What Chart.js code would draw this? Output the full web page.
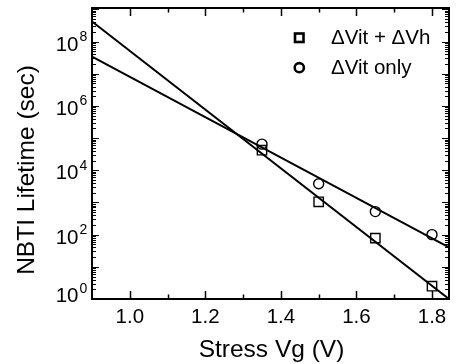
<!DOCTYPE html>
<html>
<head>
<meta charset="utf-8">
<script src="https://cdn.jsdelivr.net/npm/chart.js@4/dist/chart.umd.min.js"></script>
<style>
  html, body { margin: 0; padding: 0; background: #fff; }
  #wrap { width: 457px; height: 364px; }
</style>
</head>
<body>
<div id="wrap"><canvas id="c" width="457" height="364"></canvas></div>
<script>
// Measured lifetimes at each stress voltage
const stressV = [1.35, 1.5, 1.65, 1.8];
const lifeBoth = [4.2e4, 1.05e3, 78, 2.5];      // ΔVit + ΔVh
const lifeVitOnly = [6.5e4, 3.8e3, 520, 100];   // ΔVit only

// Extrapolated power-law fits (end points across the axis range)
const fitX = [0.9, 1.845];
const fitBoth = [4.2e8, 1.0];
const fitVitOnly = [3.4e7, 40];

// Axis ticks and texts
const xTicks = [1.0, 1.2, 1.4, 1.6, 1.8];
const xMinorTicks = [1.1, 1.3, 1.5, 1.7];
const yExponents = [0, 2, 4, 6, 8];
const seriesLabels = ['\u0394Vit + \u0394Vh', '\u0394Vit only'];
const xTitle = 'Stress Vg (V)';
const yTitle = 'NBTI Lifetime (sec)';

const FONT = "'Liberation Sans', Arial, Helvetica, sans-serif";

const toPts = (xs, ys) => xs.map((x, i) => ({ x: x, y: ys[i] }));

// Frame, inward ticks, tick labels, titles and legend
const framePlugin = {
  id: 'frame',
  afterDraw(chart) {
    const ctx = chart.ctx;
    const a = chart.chartArea;
    const xs = chart.scales.x, ys = chart.scales.y;
    ctx.save();
    ctx.strokeStyle = '#000';
    ctx.fillStyle = '#000';

    // frame
    ctx.lineWidth = 2;
    ctx.strokeRect(a.left, a.top, a.right - a.left, a.bottom - a.top);

    // x ticks (bottom + top)
    ctx.lineWidth = 1.5;
    const xTick = (v, len) => {
      const px = Math.round(xs.getPixelForValue(v)) + 0.5;
      ctx.beginPath();
      ctx.moveTo(px, a.bottom); ctx.lineTo(px, a.bottom - len);
      ctx.moveTo(px, a.top); ctx.lineTo(px, a.top + len);
      ctx.stroke();
    };
    xTicks.forEach(v => xTick(v, 8));
    xMinorTicks.forEach(v => xTick(v, 4.5));

    // y ticks (left + right), decades and 2..9 minors
    const yTick = (v, len) => {
      const py = Math.round(ys.getPixelForValue(v)) + 0.5;
      if (py < a.top - 0.5 || py > a.bottom + 0.5) return;
      ctx.beginPath();
      ctx.moveTo(a.left, py); ctx.lineTo(a.left + len, py);
      ctx.moveTo(a.right, py); ctx.lineTo(a.right - len, py);
      ctx.stroke();
    };
    ctx.lineWidth = 1.2;
    for (let e = 0; e <= 9; e++) {
      const base = Math.pow(10, e);
      yTick(base, 7);
      for (let m = 2; m <= 9; m++) yTick(m * base, 4);
    }

    // x tick labels
    ctx.font = '20.5px ' + FONT;
    ctx.textAlign = 'center';
    ctx.textBaseline = 'middle';
    xTicks.forEach(v => {
      ctx.fillText(v.toFixed(1), xs.getPixelForValue(v), 317);
    });

    // y tick labels as 10 with superscript exponent
    yExponents.forEach(e => {
      let py = ys.getPixelForValue(Math.pow(10, e));
      if (e === 0) py -= 6;
      ctx.font = '20.5px ' + FONT;
      ctx.textAlign = 'right';
      ctx.textBaseline = 'alphabetic';
      const baseY = py + 9;
      ctx.fillText('10', 78.5, baseY);
      ctx.font = '14px ' + FONT;
      ctx.textAlign = 'left';
      ctx.fillText(String(e), 79.5, baseY - 9.5);
    });

    // axis titles
    ctx.font = '24.5px ' + FONT;
    ctx.textAlign = 'center';
    ctx.textBaseline = 'alphabetic';
    ctx.fillText(xTitle, (a.left + a.right) / 2 + 1, 357);
    ctx.save();
    ctx.translate(34, 170);
    ctx.rotate(-Math.PI / 2);
    ctx.fillText(yTitle, 0, 0);
    ctx.restore();

    // legend
    ctx.lineWidth = 2.6;
    ctx.strokeRect(295, 33.5, 8.5, 8.5);
    ctx.beginPath();
    ctx.arc(299.3, 67.7, 4.6, 0, Math.PI * 2);
    ctx.stroke();
    ctx.font = '20.5px ' + FONT;
    ctx.textAlign = 'left';
    ctx.textBaseline = 'middle';
    ctx.fillText(seriesLabels[0], 331, 38);
    ctx.fillText(seriesLabels[1], 331, 68);

    ctx.restore();
  }
};

new Chart(document.getElementById('c'), {
  type: 'scatter',
  data: {
    datasets: [
      {
        label: seriesLabels[0] + ' fit',
        data: toPts(fitX, fitBoth),
        showLine: true, borderColor: '#000', borderWidth: 2,
        pointRadius: 0, fill: false
      },
      {
        label: seriesLabels[1] + ' fit',
        data: toPts(fitX, fitVitOnly),
        showLine: true, borderColor: '#000', borderWidth: 2,
        pointRadius: 0, fill: false
      },
      {
        label: seriesLabels[0],
        data: toPts(stressV, lifeBoth),
        pointStyle: 'rect', pointRadius: 6.6,
        pointBorderColor: '#000', pointBackgroundColor: 'rgba(0,0,0,0)',
        pointBorderWidth: 1.4, showLine: false
      },
      {
        label: seriesLabels[1],
        data: toPts(stressV, lifeVitOnly),
        pointStyle: 'circle', pointRadius: 5,
        pointBorderColor: '#000', pointBackgroundColor: 'rgba(0,0,0,0)',
        pointBorderWidth: 1.4, showLine: false
      }
    ]
  },
  options: {
    responsive: false,
    animation: false,
    events: [],
    layout: { padding: { left: 92, right: 4, top: 6, bottom: 65 } },
    plugins: { legend: { display: false }, tooltip: { enabled: false } },
    scales: {
      x: { type: 'linear', min: 0.9, max: 1.845, display: false },
      y: { type: 'logarithmic', min: 1, max: 1.1e9, display: false }
    }
  },
  plugins: [framePlugin]
});
</script>
</body>
</html>
